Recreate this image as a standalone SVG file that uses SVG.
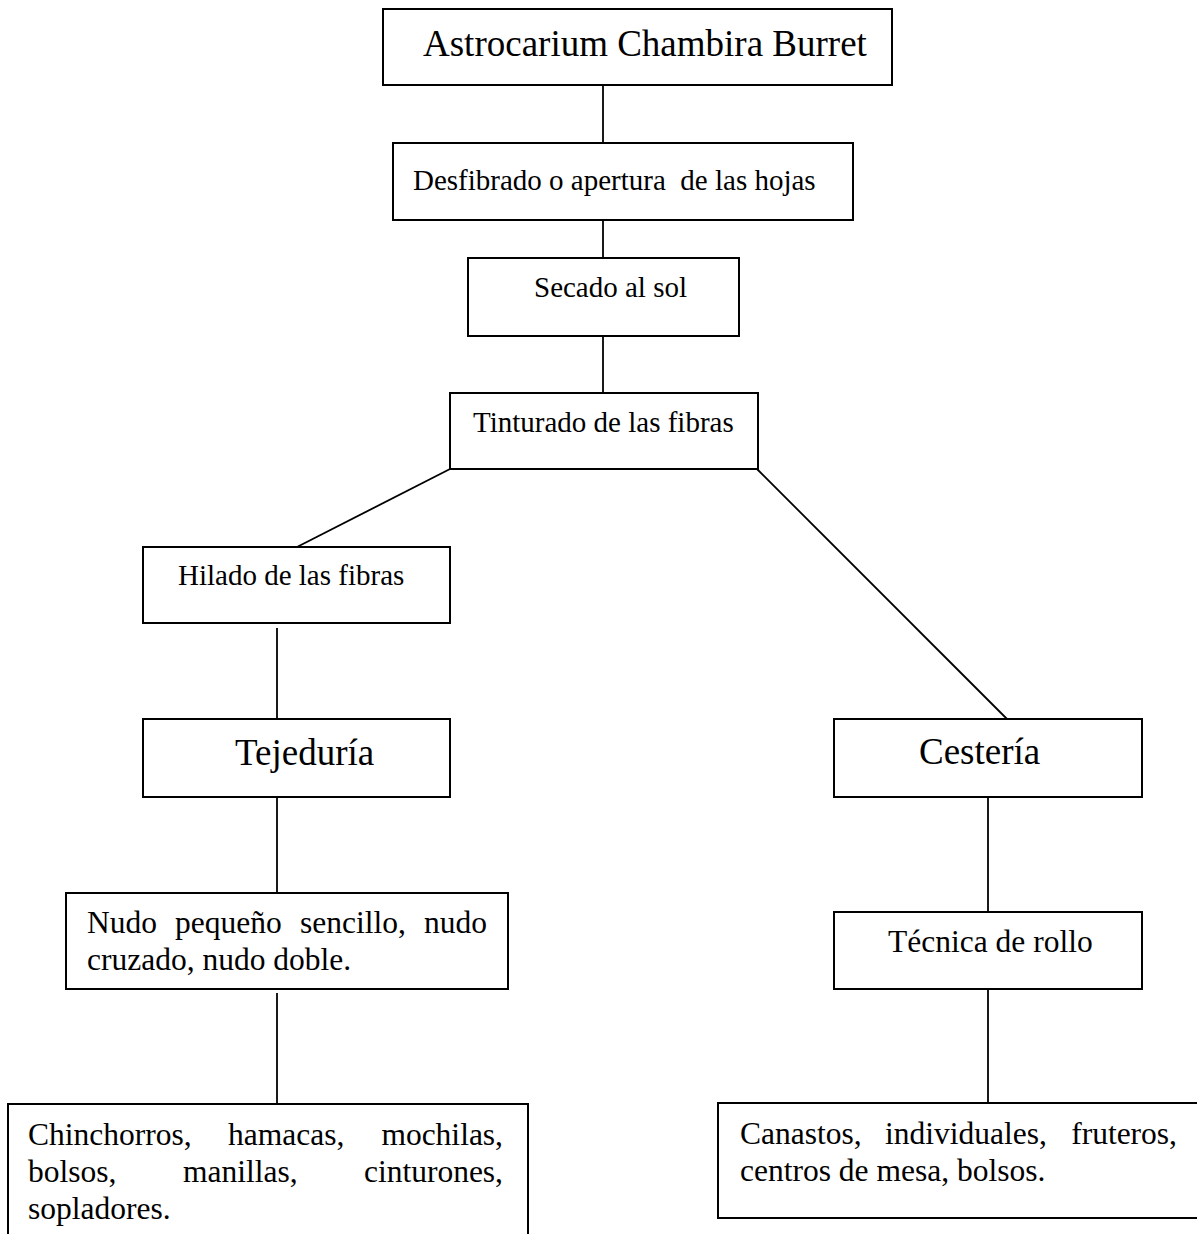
<svg xmlns="http://www.w3.org/2000/svg" width="1197" height="1234" viewBox="0 0 1197 1234">
<style>
.box{fill:#fff;stroke:#000;stroke-width:2}
.c{stroke:#000;stroke-width:1.8;fill:none}
text{font-family:"Liberation Serif","Times New Roman",serif;fill:#000}
.lg{font-size:37px}
.md{font-size:29px}
.sm{font-size:31.5px}
</style>
<rect width="1197" height="1234" fill="#fff"/>
<g id="connectors">
<line class="c" x1="603" y1="85" x2="603" y2="143"/>
<line class="c" x1="603" y1="220" x2="603" y2="258"/>
<line class="c" x1="603" y1="336" x2="603" y2="393"/>
<line class="c" x1="450" y1="469" x2="297" y2="547"/>
<line class="c" x1="757" y1="469" x2="1007" y2="719"/>
<line class="c" x1="277" y1="628" x2="277" y2="719"/>
<line class="c" x1="277" y1="797" x2="277" y2="893"/>
<line class="c" x1="277" y1="993" x2="277" y2="1107"/>
<line class="c" x1="988" y1="797" x2="988" y2="912"/>
<line class="c" x1="988" y1="989" x2="988" y2="1103"/>
</g>
<g id="n-astrocarium">
<rect class="box" x="383" y="9" width="509" height="76"/>
<text class="lg" x="423" y="56">Astrocarium Chambira Burret</text>
</g>
<g id="n-desfibrado">
<rect class="box" x="393" y="143" width="460" height="77"/>
<text class="md" x="413" y="190" xml:space="preserve">Desfibrado o apertura  de las hojas</text>
</g>
<g id="n-secado">
<rect class="box" x="468" y="258" width="271" height="78"/>
<text class="md" x="534" y="297">Secado al sol</text>
</g>
<g id="n-tinturado">
<rect class="box" x="450" y="393" width="308" height="76"/>
<text class="md" x="473" y="432">Tinturado de las fibras</text>
</g>
<g id="n-hilado">
<rect class="box" x="143" y="547" width="307" height="76"/>
<text class="md" x="178" y="585">Hilado de las fibras</text>
</g>
<g id="n-tejeduria">
<rect class="box" x="143" y="719" width="307" height="78"/>
<text class="lg" x="235" y="765">Tejeduría</text>
</g>
<g id="n-cesteria">
<rect class="box" x="834" y="719" width="308" height="78"/>
<text class="lg" x="919" y="764">Cestería</text>
</g>
<g id="n-nudo">
<rect class="box" x="66" y="893" width="442" height="96"/>
<text class="sm" y="933"><tspan x="87">Nudo</tspan><tspan x="175">pequeño</tspan><tspan x="300">sencillo,</tspan><tspan x="487" text-anchor="end">nudo</tspan></text>
<text class="sm" x="87" y="970">cruzado, nudo doble.</text>
</g>
<g id="n-tecnica">
<rect class="box" x="834" y="912" width="308" height="77"/>
<text class="sm" x="888" y="952">Técnica de rollo</text>
</g>
<g id="n-chinchorros">
<rect class="box" x="8" y="1104" width="520" height="200"/>
<text class="sm" y="1145"><tspan x="28">Chinchorros,</tspan><tspan x="228">hamacas,</tspan><tspan x="503" text-anchor="end">mochilas,</tspan></text>
<text class="sm" y="1182"><tspan x="28">bolsos,</tspan><tspan x="183">manillas,</tspan><tspan x="503" text-anchor="end">cinturones,</tspan></text>
<text class="sm" x="28" y="1219">sopladores.</text>
</g>
<g id="n-canastos">
<rect class="box" x="718" y="1103" width="500" height="115"/>
<text class="sm" y="1144"><tspan x="740">Canastos,</tspan><tspan x="885">individuales,</tspan><tspan x="1177" text-anchor="end">fruteros,</tspan></text>
<text class="sm" x="740" y="1181">centros de mesa, bolsos.</text>
</g>
</svg>
